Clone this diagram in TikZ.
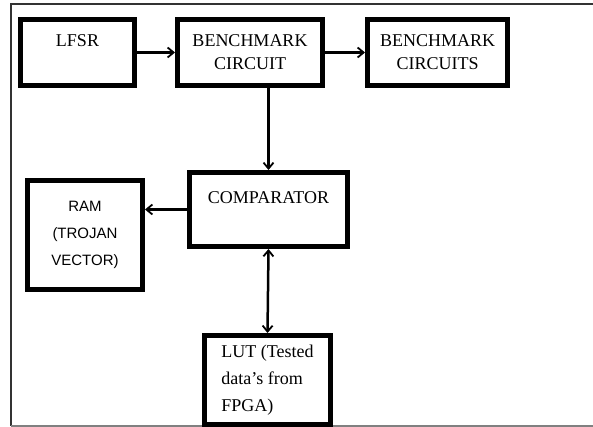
\documentclass[tikz,border=0pt]{standalone}
\usepackage{fontspec}
\setmainfont{Liberation Serif}
\newfontfamily\ramfont{Liberation Sans}
\usetikzlibrary{arrows.meta}

\begin{document}
\begin{tikzpicture}[x=1pt,y=-1pt,
    >={Straight Barb[length=6pt,width=10pt,line width=1.8pt]},
    blk/.style={draw,line width=5pt,rectangle,align=center,inner sep=0pt,
      font=\fontsize{18}{23}\selectfont},
    conn/.style={line width=2.5pt,->}]
  \useasboundingbox (0,0) rectangle (593,427);
  \fill[white] (0,0) rectangle (593,427);
  % outer frame
  \draw[line width=1.5pt,black!80] (11,426) -- (11,4) -- (593,4);
  \draw[line width=1.5pt,black!50] (11,426) -- (593,426);
  % blocks
  \node[blk,minimum width=114pt,minimum height=66pt] (lfsr) at (77.5,52.5) {LFSR\\ \mbox{}};
  \node[blk,minimum width=145pt,minimum height=66pt] (bench) at (250,52.5) {BENCHMARK\\CIRCUIT};
  \node[blk,minimum width=140pt,minimum height=66pt] (benchs) at (437.5,52.5) {BENCHMARK\\CIRCUITS};
  \node[blk,minimum width=158pt,minimum height=74pt] (comp) at (268.5,209.5) {COMPARATOR\\ \mbox{}};
  \node[blk,minimum width=115pt,minimum height=109pt,
    font=\ramfont\fontsize{15}{27}\selectfont] (ram) at (85,235) {RAM\\(TROJAN\\VECTOR)};
  \node[blk,minimum width=126pt,minimum height=89pt,align=left,
    font=\fontsize{18}{27}\selectfont] (lut) at (267.5,380) {LUT (Tested\\data's from\\FPGA)};
  % connections
  \draw[conn] (lfsr.east) -- (bench.west);
  \draw[conn] (bench.east) -- (benchs.west);
  \draw[conn] (bench.south -| comp.north) -- (comp.north);
  \draw[conn] (comp.west) -- (comp.west -| ram.east);
  \draw[conn,<->] (comp.south) -- (lut.north);
\end{tikzpicture}
\end{document}
